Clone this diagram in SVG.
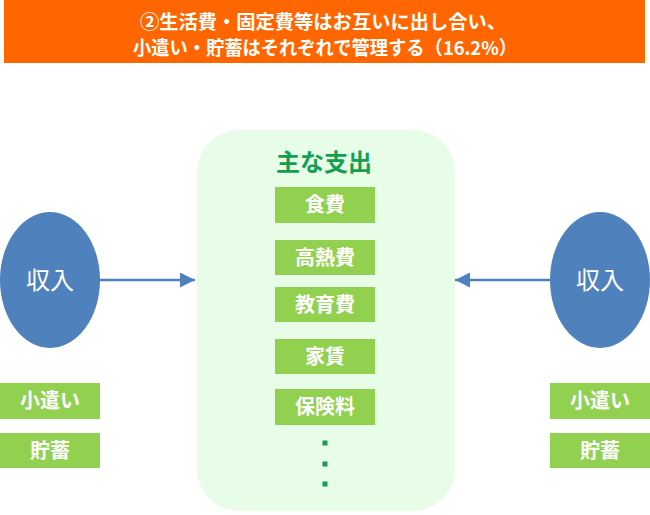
<svg xmlns="http://www.w3.org/2000/svg" width="650" height="515" viewBox="0 0 650 515">
<defs>
<style>
text{font-family:"Noto Sans CJK JP","Noto Sans",sans-serif;text-anchor:middle}
.banner{fill:#fff;font-size:19px;font-weight:bold}
.item rect{fill:#92d050}
.item text{fill:#fff;font-size:20px;font-weight:bold}
.inc ellipse{fill:#4f81bd}
.inc text{fill:#fff;font-size:24px}
.conn line{stroke:#4f81bd;stroke-width:2.5}
.dot{fill:#12a050}
</style>
<marker id="ah" viewBox="0 0 10 10" refX="10" refY="5" markerWidth="6" markerHeight="6" orient="auto" markerUnits="strokeWidth">
<path d="M0,0L10,5L0,10z" fill="#4f81bd"/>
</marker>
</defs>
<rect width="650" height="515" fill="#fff"/>
<g id="banner">
<rect x="4" y="0" width="641" height="63" fill="#ff6600"/>
<text class="banner" x="323" y="29" textLength="366" lengthAdjust="spacingAndGlyphs">②生活費・固定費等はお互いに出し合い、</text>
<text class="banner" x="325" y="55" textLength="384" lengthAdjust="spacingAndGlyphs">小遣い・貯蓄はそれぞれで管理する（16.2%）</text>
</g>
<g id="expenses">
<rect x="197" y="130" width="258" height="381" rx="42" fill="#e8fde8"/>
<text x="324" y="171" font-size="24" font-weight="bold" fill="#12a050">主な支出</text>
<g class="item" id="food"><rect x="275" y="187" width="100" height="36"/><text x="325" y="212">食費</text></g>
<g class="item" id="utility"><rect x="275" y="240" width="100" height="35"/><text x="325" y="265">高熱費</text></g>
<g class="item" id="edu"><rect x="275" y="287" width="100" height="35"/><text x="325" y="312">教育費</text></g>
<g class="item" id="rent"><rect x="275" y="339" width="100" height="35"/><text x="325" y="364">家賃</text></g>
<g class="item" id="ins"><rect x="275" y="389" width="100" height="36"/><text x="325" y="414">保険料</text></g>
<rect class="dot" x="322.5" y="440.5" width="5" height="5"/>
<rect class="dot" x="322.5" y="461.5" width="5" height="5"/>
<rect class="dot" x="322.5" y="481.5" width="5" height="5"/>
</g>
<g id="income-left" class="inc"><ellipse cx="50" cy="280" rx="50" ry="68"/><text x="50" y="289">収入</text></g>
<g id="income-right" class="inc"><ellipse cx="600" cy="280" rx="50" ry="68"/><text x="600" y="289">収入</text></g>
<g id="left-pocket" class="item"><rect x="0" y="383" width="100" height="36"/><text x="50" y="408">小遣い</text></g>
<g id="left-saving" class="item"><rect x="0" y="433" width="100" height="35"/><text x="50" y="458">貯蓄</text></g>
<g id="right-pocket" class="item"><rect x="550" y="383" width="100" height="36"/><text x="600" y="408">小遣い</text></g>
<g id="right-saving" class="item"><rect x="550" y="433" width="100" height="35"/><text x="600" y="458">貯蓄</text></g>
<g id="connectors" class="conn">
<line x1="100" y1="280" x2="195" y2="280" marker-end="url(#ah)"/>
<line x1="550" y1="280" x2="455" y2="280" marker-end="url(#ah)"/>
</g>
</svg>
